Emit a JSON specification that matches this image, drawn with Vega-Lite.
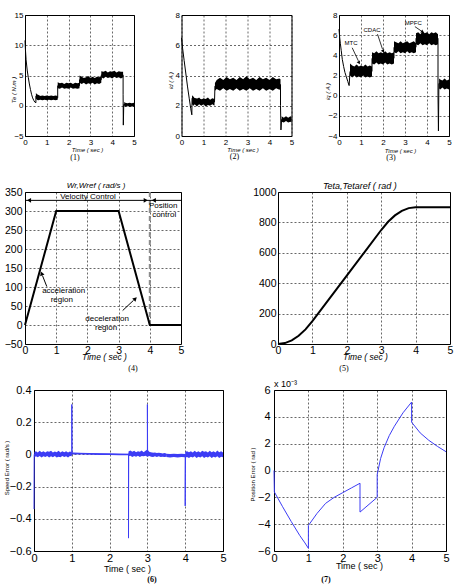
{
  "$schema": "https://vega.github.io/schema/vega-lite/v6.json",
  "padding": {"left": 2, "top": 10, "right": 0, "bottom": 0},
  "datasets": {
    "none": [],
    "p1band": [
      {"seg":"a","t":0.5,"lo":1.2,"hi":2.1},{"seg":"a","t":0.55,"lo":1.0,"hi":1.9},{"seg":"a","t":0.6,"lo":0.9,"hi":1.8},{"seg":"a","t":0.7,"lo":1.0,"hi":1.6},{"seg":"a","t":0.8,"lo":0.9,"hi":1.7},{"seg":"a","t":0.9,"lo":1.0,"hi":1.6},{"seg":"a","t":1.0,"lo":0.9,"hi":1.7},{"seg":"a","t":1.1,"lo":1.0,"hi":1.6},{"seg":"a","t":1.2,"lo":0.9,"hi":1.7},{"seg":"a","t":1.3,"lo":1.0,"hi":1.6},{"seg":"a","t":1.4,"lo":0.9,"hi":1.7},{"seg":"a","t":1.5,"lo":1.0,"hi":1.6},
      {"seg":"b","t":1.5,"lo":2.9,"hi":3.9},{"seg":"b","t":1.6,"lo":2.8,"hi":3.7},{"seg":"b","t":1.7,"lo":3.0,"hi":3.8},{"seg":"b","t":1.8,"lo":2.8,"hi":3.6},{"seg":"b","t":1.9,"lo":2.9,"hi":3.8},{"seg":"b","t":2.0,"lo":2.8,"hi":3.7},{"seg":"b","t":2.1,"lo":3.0,"hi":3.8},{"seg":"b","t":2.2,"lo":2.8,"hi":3.6},{"seg":"b","t":2.3,"lo":2.9,"hi":3.8},{"seg":"b","t":2.4,"lo":2.8,"hi":3.7},{"seg":"b","t":2.5,"lo":2.9,"hi":3.8},
      {"seg":"c","t":2.5,"lo":3.8,"hi":5.0},{"seg":"c","t":2.6,"lo":3.6,"hi":4.8},{"seg":"c","t":2.7,"lo":3.8,"hi":4.6},{"seg":"c","t":2.8,"lo":3.5,"hi":4.7},{"seg":"c","t":2.9,"lo":3.7,"hi":4.9},{"seg":"c","t":3.0,"lo":3.6,"hi":4.6},{"seg":"c","t":3.1,"lo":3.8,"hi":4.8},{"seg":"c","t":3.2,"lo":3.5,"hi":4.6},{"seg":"c","t":3.3,"lo":3.7,"hi":4.8},{"seg":"c","t":3.4,"lo":3.6,"hi":4.7},{"seg":"c","t":3.5,"lo":3.8,"hi":4.9},
      {"seg":"d","t":3.5,"lo":4.7,"hi":5.7},{"seg":"d","t":3.6,"lo":4.5,"hi":5.6},{"seg":"d","t":3.7,"lo":4.8,"hi":5.8},{"seg":"d","t":3.8,"lo":4.6,"hi":5.5},{"seg":"d","t":3.9,"lo":4.7,"hi":5.7},{"seg":"d","t":4.0,"lo":4.5,"hi":5.6},{"seg":"d","t":4.1,"lo":4.8,"hi":5.8},{"seg":"d","t":4.2,"lo":4.6,"hi":5.5},{"seg":"d","t":4.3,"lo":4.7,"hi":5.7},{"seg":"d","t":4.4,"lo":4.5,"hi":5.6},{"seg":"d","t":4.5,"lo":4.7,"hi":5.6},
      {"seg":"e","t":4.55,"lo":-0.1,"hi":0.6},{"seg":"e","t":4.6,"lo":-0.2,"hi":0.5},{"seg":"e","t":4.7,"lo":0.0,"hi":0.4},{"seg":"e","t":4.8,"lo":-0.2,"hi":0.5},{"seg":"e","t":4.9,"lo":-0.1,"hi":0.4},{"seg":"e","t":5.0,"lo":-0.2,"hi":0.5}
    ],
    "p1line": [
      {"t":0,"v":10.8},{"t":0.02,"v":9.3},{"t":0.05,"v":7.6},{"t":0.1,"v":5.9},{"t":0.15,"v":4.7},{"t":0.2,"v":3.6},{"t":0.25,"v":2.7},{"t":0.3,"v":1.9},{"t":0.35,"v":1.3},{"t":0.4,"v":0.9},{"t":0.45,"v":0.6},{"t":0.5,"v":0.5},{"t":0.5,"v":1.6},{"t":1.5,"v":1.3},{"t":1.5,"v":3.3},{"t":2.5,"v":3.3},{"t":2.5,"v":4.3},{"t":3.5,"v":4.3},{"t":3.5,"v":5.1},{"t":4.5,"v":5.1},{"t":4.5,"v":1.9},{"t":4.51,"v":-3.2},{"t":4.53,"v":0.2},{"t":5,"v":0.2}
    ],
    "p2band": [
      {"seg":"a","t":0.48,"lo":2.1,"hi":2.7},{"seg":"a","t":0.55,"lo":2.0,"hi":2.6},{"seg":"a","t":0.6,"lo":2.1,"hi":2.5},{"seg":"a","t":0.7,"lo":1.95,"hi":2.45},{"seg":"a","t":0.8,"lo":2.1,"hi":2.55},{"seg":"a","t":0.9,"lo":2.0,"hi":2.4},{"seg":"a","t":1.0,"lo":2.1,"hi":2.5},{"seg":"a","t":1.1,"lo":1.95,"hi":2.45},{"seg":"a","t":1.2,"lo":2.05,"hi":2.55},{"seg":"a","t":1.3,"lo":2.0,"hi":2.4},{"seg":"a","t":1.4,"lo":2.1,"hi":2.5},{"seg":"a","t":1.5,"lo":2.0,"hi":2.45},
      {"seg":"b","t":1.52,"lo":3.0,"hi":3.5},{"seg":"b","t":1.6,"lo":3.1,"hi":3.7},{"seg":"b","t":1.75,"lo":3.0,"hi":3.85},{"seg":"b","t":1.9,"lo":3.15,"hi":3.7},{"seg":"b","t":2.05,"lo":3.0,"hi":3.9},{"seg":"b","t":2.2,"lo":3.1,"hi":3.75},{"seg":"b","t":2.35,"lo":3.0,"hi":3.85},{"seg":"b","t":2.5,"lo":3.15,"hi":3.7},{"seg":"b","t":2.65,"lo":3.0,"hi":3.9},{"seg":"b","t":2.8,"lo":3.1,"hi":3.75},{"seg":"b","t":2.95,"lo":3.0,"hi":3.95},{"seg":"b","t":3.1,"lo":3.15,"hi":3.75},{"seg":"b","t":3.25,"lo":3.0,"hi":3.85},{"seg":"b","t":3.4,"lo":3.1,"hi":3.7},{"seg":"b","t":3.55,"lo":3.0,"hi":3.9},{"seg":"b","t":3.7,"lo":3.15,"hi":3.75},{"seg":"b","t":3.85,"lo":3.0,"hi":3.85},{"seg":"b","t":4.0,"lo":3.1,"hi":3.7},{"seg":"b","t":4.15,"lo":3.0,"hi":3.9},{"seg":"b","t":4.3,"lo":3.15,"hi":3.75},{"seg":"b","t":4.45,"lo":3.05,"hi":3.8},{"seg":"b","t":4.5,"lo":3.1,"hi":3.75},
      {"seg":"c","t":4.55,"lo":0.95,"hi":1.3},{"seg":"c","t":4.65,"lo":0.9,"hi":1.2},{"seg":"c","t":4.75,"lo":1.0,"hi":1.3},{"seg":"c","t":4.85,"lo":0.9,"hi":1.2},{"seg":"c","t":4.95,"lo":0.95,"hi":1.3},{"seg":"c","t":5.0,"lo":0.9,"hi":1.25}
    ],
    "p2line": [
      {"t":0,"v":6.5},{"t":0.05,"v":5.8},{"t":0.12,"v":5.0},{"t":0.2,"v":4.1},{"t":0.27,"v":3.3},{"t":0.35,"v":2.5},{"t":0.42,"v":1.8},{"t":0.47,"v":1.4},{"t":0.48,"v":2.5},{"t":1.5,"v":2.25},{"t":1.52,"v":3.3},{"t":4.5,"v":3.4},{"t":4.5,"v":2.0},{"t":4.52,"v":0.4},{"t":4.55,"v":1.1},{"t":5,"v":1.1}
    ],
    "p3band": [
      {"seg":"a","t":0.5,"lo":2.0,"hi":3.2},{"seg":"a","t":0.6,"lo":1.8,"hi":3.0},{"seg":"a","t":0.7,"lo":2.0,"hi":2.9},{"seg":"a","t":0.8,"lo":1.8,"hi":3.1},{"seg":"a","t":0.9,"lo":1.9,"hi":2.9},{"seg":"a","t":1.0,"lo":1.8,"hi":3.0},{"seg":"a","t":1.1,"lo":2.0,"hi":2.9},{"seg":"a","t":1.2,"lo":1.8,"hi":3.1},{"seg":"a","t":1.3,"lo":1.9,"hi":2.9},{"seg":"a","t":1.4,"lo":1.8,"hi":3.0},{"seg":"a","t":1.5,"lo":1.9,"hi":2.9},
      {"seg":"b","t":1.5,"lo":3.2,"hi":4.3},{"seg":"b","t":1.6,"lo":3.1,"hi":4.2},{"seg":"b","t":1.7,"lo":3.3,"hi":4.4},{"seg":"b","t":1.8,"lo":3.1,"hi":4.2},{"seg":"b","t":1.9,"lo":3.2,"hi":4.3},{"seg":"b","t":2.0,"lo":3.1,"hi":4.2},{"seg":"b","t":2.1,"lo":3.3,"hi":4.4},{"seg":"b","t":2.2,"lo":3.1,"hi":4.2},{"seg":"b","t":2.3,"lo":3.2,"hi":4.3},{"seg":"b","t":2.4,"lo":3.1,"hi":4.2},{"seg":"b","t":2.5,"lo":3.2,"hi":4.3},
      {"seg":"c","t":2.5,"lo":4.3,"hi":5.4},{"seg":"c","t":2.6,"lo":4.2,"hi":5.3},{"seg":"c","t":2.7,"lo":4.4,"hi":5.2},{"seg":"c","t":2.8,"lo":4.2,"hi":5.4},{"seg":"c","t":2.9,"lo":4.3,"hi":5.2},{"seg":"c","t":3.0,"lo":4.2,"hi":5.3},{"seg":"c","t":3.1,"lo":4.4,"hi":5.4},{"seg":"c","t":3.2,"lo":4.2,"hi":5.2},{"seg":"c","t":3.3,"lo":4.3,"hi":5.3},{"seg":"c","t":3.4,"lo":4.2,"hi":5.4},{"seg":"c","t":3.5,"lo":4.3,"hi":5.2},
      {"seg":"d","t":3.5,"lo":5.1,"hi":6.2},{"seg":"d","t":3.6,"lo":5.0,"hi":6.3},{"seg":"d","t":3.7,"lo":5.2,"hi":6.1},{"seg":"d","t":3.8,"lo":5.0,"hi":6.4},{"seg":"d","t":3.9,"lo":5.1,"hi":6.2},{"seg":"d","t":4.0,"lo":5.0,"hi":6.3},{"seg":"d","t":4.1,"lo":5.2,"hi":6.1},{"seg":"d","t":4.2,"lo":5.0,"hi":6.3},{"seg":"d","t":4.3,"lo":5.1,"hi":6.2},{"seg":"d","t":4.4,"lo":5.0,"hi":6.3},{"seg":"d","t":4.5,"lo":5.1,"hi":6.1},
      {"seg":"e","t":4.55,"lo":0.7,"hi":1.7},{"seg":"e","t":4.6,"lo":0.6,"hi":1.6},{"seg":"e","t":4.7,"lo":0.8,"hi":1.5},{"seg":"e","t":4.8,"lo":0.6,"hi":1.7},{"seg":"e","t":4.9,"lo":0.7,"hi":1.5},{"seg":"e","t":5.0,"lo":0.6,"hi":1.6}
    ],
    "p3line": [
      {"t":0,"v":6.6},{"t":0.03,"v":5.8},{"t":0.06,"v":5.2},{"t":0.1,"v":4.5},{"t":0.15,"v":3.6},{"t":0.21,"v":2.9},{"t":0.27,"v":2.3},{"t":0.33,"v":1.9},{"t":0.4,"v":1.4},{"t":0.46,"v":1.0},{"t":0.5,"v":2.4},{"t":1.5,"v":2.4},{"t":1.5,"v":3.7},{"t":2.5,"v":3.7},{"t":2.5,"v":4.8},{"t":3.5,"v":4.8},{"t":3.5,"v":5.7},{"t":4.5,"v":5.7},{"t":4.5,"v":0.0},{"t":4.52,"v":-3.5},{"t":4.54,"v":1.2},{"t":5,"v":1.1}
    ],
    "p4line": [{"t":0,"v":0},{"t":1,"v":300},{"t":3,"v":300},{"t":4,"v":0},{"t":5,"v":0}],
    "p4text": [
      {"t":2.02,"v":337,"label":"Velocity Control"},{"t":4.43,"v":313,"label":"Position"},{"t":4.46,"v":289,"label":"control"},
      {"t":1.24,"v":89,"label":"acceleration"},{"t":1.18,"v":67,"label":"region"},{"t":2.63,"v":16,"label":"deceleration"},{"t":2.6,"v":-8,"label":"region"}
    ],
    "p5line": [
      {"t":0,"v":0},{"t":0.2,"v":6},{"t":0.4,"v":24},{"t":0.6,"v":54},{"t":0.8,"v":96},{"t":1.0,"v":150},{"t":1.5,"v":300},{"t":2.0,"v":450},{"t":2.5,"v":600},{"t":3.0,"v":750},{"t":3.2,"v":804},{"t":3.4,"v":846},{"t":3.6,"v":876},{"t":3.8,"v":894},{"t":4.0,"v":900},{"t":5.0,"v":900}
    ],
    "p6band": [
      {"seg":"a","t":0.01,"lo":-0.02,"hi":0.015},{"seg":"a","t":0.05,"lo":-0.012,"hi":0.02},{"seg":"a","t":0.1,"lo":-0.018,"hi":0.012},{"seg":"a","t":0.15,"lo":-0.01,"hi":0.022},{"seg":"a","t":0.2,"lo":-0.02,"hi":0.014},{"seg":"a","t":0.25,"lo":-0.012,"hi":0.02},{"seg":"a","t":0.3,"lo":-0.016,"hi":0.012},{"seg":"a","t":0.35,"lo":-0.01,"hi":0.02},{"seg":"a","t":0.4,"lo":-0.02,"hi":0.016},{"seg":"a","t":0.45,"lo":-0.012,"hi":0.022},{"seg":"a","t":0.5,"lo":-0.018,"hi":0.012},{"seg":"a","t":0.55,"lo":-0.01,"hi":0.018},{"seg":"a","t":0.6,"lo":-0.02,"hi":0.014},{"seg":"a","t":0.65,"lo":-0.014,"hi":0.022},{"seg":"a","t":0.7,"lo":-0.018,"hi":0.012},{"seg":"a","t":0.75,"lo":-0.01,"hi":0.02},{"seg":"a","t":0.8,"lo":-0.016,"hi":0.014},{"seg":"a","t":0.85,"lo":-0.012,"hi":0.02},{"seg":"a","t":0.9,"lo":-0.02,"hi":0.012},{"seg":"a","t":0.95,"lo":-0.01,"hi":0.018},{"seg":"a","t":1.0,"lo":-0.012,"hi":0.014},
      {"seg":"b","t":1.0,"lo":0.0,"hi":0.01},{"seg":"b","t":1.25,"lo":0.0,"hi":0.009},{"seg":"b","t":1.5,"lo":-0.002,"hi":0.007},{"seg":"b","t":1.75,"lo":-0.003,"hi":0.006},{"seg":"b","t":2.0,"lo":-0.004,"hi":0.005},{"seg":"b","t":2.25,"lo":-0.005,"hi":0.004},{"seg":"b","t":2.5,"lo":-0.005,"hi":0.004},
      {"seg":"c","t":2.5,"lo":-0.012,"hi":0.018},{"seg":"c","t":2.55,"lo":-0.008,"hi":0.024},{"seg":"c","t":2.6,"lo":-0.016,"hi":0.016},{"seg":"c","t":2.65,"lo":-0.01,"hi":0.022},{"seg":"c","t":2.7,"lo":-0.014,"hi":0.014},{"seg":"c","t":2.75,"lo":-0.008,"hi":0.02},{"seg":"c","t":2.8,"lo":-0.016,"hi":0.016},{"seg":"c","t":2.85,"lo":-0.01,"hi":0.024},{"seg":"c","t":2.9,"lo":-0.012,"hi":0.014},{"seg":"c","t":2.95,"lo":-0.008,"hi":0.022},{"seg":"c","t":3.0,"lo":-0.014,"hi":0.03},{"seg":"c","t":3.05,"lo":-0.01,"hi":0.016},{"seg":"c","t":3.1,"lo":-0.014,"hi":0.012},{"seg":"c","t":3.15,"lo":-0.016,"hi":0.01},{"seg":"c","t":3.2,"lo":-0.012,"hi":0.012},{"seg":"c","t":3.25,"lo":-0.016,"hi":0.008},{"seg":"c","t":3.3,"lo":-0.012,"hi":0.01},{"seg":"c","t":3.35,"lo":-0.016,"hi":0.008},{"seg":"c","t":3.4,"lo":-0.014,"hi":0.006},{"seg":"c","t":3.45,"lo":-0.016,"hi":0.008},{"seg":"c","t":3.5,"lo":-0.014,"hi":0.006},
      {"seg":"d","t":3.5,"lo":-0.016,"hi":0.004},{"seg":"d","t":3.6,"lo":-0.02,"hi":0.002},{"seg":"d","t":3.7,"lo":-0.016,"hi":0.004},{"seg":"d","t":3.8,"lo":-0.02,"hi":0.002},{"seg":"d","t":3.9,"lo":-0.016,"hi":0.004},{"seg":"d","t":4.0,"lo":-0.018,"hi":0.003},
      {"seg":"e","t":4.0,"lo":-0.02,"hi":0.016},{"seg":"e","t":4.05,"lo":-0.016,"hi":0.02},{"seg":"e","t":4.1,"lo":-0.022,"hi":0.014},{"seg":"e","t":4.15,"lo":-0.014,"hi":0.02},{"seg":"e","t":4.2,"lo":-0.02,"hi":0.012},{"seg":"e","t":4.25,"lo":-0.012,"hi":0.022},{"seg":"e","t":4.3,"lo":-0.022,"hi":0.014},{"seg":"e","t":4.35,"lo":-0.014,"hi":0.02},{"seg":"e","t":4.4,"lo":-0.02,"hi":0.012},{"seg":"e","t":4.45,"lo":-0.012,"hi":0.022},{"seg":"e","t":4.5,"lo":-0.022,"hi":0.016},{"seg":"e","t":4.55,"lo":-0.014,"hi":0.02},{"seg":"e","t":4.6,"lo":-0.02,"hi":0.012},{"seg":"e","t":4.65,"lo":-0.012,"hi":0.022},{"seg":"e","t":4.7,"lo":-0.022,"hi":0.014},{"seg":"e","t":4.75,"lo":-0.014,"hi":0.02},{"seg":"e","t":4.8,"lo":-0.02,"hi":0.012},{"seg":"e","t":4.85,"lo":-0.012,"hi":0.024},{"seg":"e","t":4.9,"lo":-0.022,"hi":0.014},{"seg":"e","t":4.95,"lo":-0.014,"hi":0.02},{"seg":"e","t":5.0,"lo":-0.018,"hi":0.012}
    ],
    "p6line": [
      {"t":0,"v":-0.34},{"t":0.005,"v":0.0},{"t":1.0,"v":0.005},{"t":1.0,"v":0.31},{"t":1.005,"v":0.008},{"t":2.5,"v":0.0},{"t":2.5,"v":-0.52},{"t":2.505,"v":0.005},{"t":3.0,"v":0.01},{"t":3.0,"v":0.31},{"t":3.005,"v":0.01},{"t":3.5,"v":-0.003},{"t":4.0,"v":-0.005},{"t":4.0,"v":-0.32},{"t":4.005,"v":-0.12},{"t":4.01,"v":0.0},{"t":5,"v":0.0}
    ],
    "p7line": [
      {"t":0,"v":0},{"t":0.01,"v":-1.6},{"t":0.25,"v":-2.7},{"t":0.5,"v":-3.8},{"t":0.75,"v":-4.85},{"t":0.9,"v":-5.4},{"t":1.0,"v":-5.8},{"t":1.0,"v":-4.1},{"t":1.25,"v":-3.2},{"t":1.5,"v":-2.45},{"t":1.75,"v":-2.0},{"t":2.0,"v":-1.65},{"t":2.25,"v":-1.3},{"t":2.5,"v":-0.95},{"t":2.5,"v":-3.1},{"t":3.0,"v":-2.0},{"t":3.0,"v":-0.3},{"t":3.1,"v":0.9},{"t":3.2,"v":1.7},{"t":3.35,"v":2.6},{"t":3.5,"v":3.3},{"t":3.75,"v":4.3},{"t":4.0,"v":5.1},{"t":4.0,"v":3.6},{"t":4.25,"v":2.8},{"t":4.5,"v":2.25},{"t":4.75,"v":1.8},{"t":5.0,"v":1.4}
    ]
  },
  "vconcat": [
    {
      "vconcat": [
        {
          "hconcat": [
            {
              "width": 109, "height": 121,
              "title": {"text": "(1)", "orient": "bottom", "dx": -4.5, "offset": 2},
              "layer": [
                {"data": {"name": "p1band"}, "mark": {"type": "area", "color": "#000"},
                 "encoding": {
                   "x": {"field": "t", "type": "quantitative", "scale": {"domain": [0, 5], "nice": false},
                         "axis": {"values": [0,1,2,3,4,5], "tickCount": 20, "format": "d", "labelFontSize": 8, "title": "Time ( sec )", "titleFontSize": 6, "titleFontStyle": "italic", "titleX": 62, "titleY": 13, "titleBaseline": "middle"}},
                   "y": {"field": "lo", "type": "quantitative", "scale": {"domain": [-5, 15], "nice": false},
                         "axis": {"values": [-5,0,5,10,15], "tickCount": 20, "format": "d", "labelFontSize": 8, "title": "Te ( N.m )", "titleFontSize": 6, "titleFontStyle": "italic", "titleX": -12, "titleY": 74.5, "titleBaseline": "middle"}},
                   "y2": {"field": "hi"},
                   "detail": {"field": "seg"}}},
                {"data": {"name": "p1line"}, "mark": {"type": "line", "color": "#000", "strokeWidth": 1},
                 "encoding": {
                   "x": {"field": "t", "type": "quantitative", "scale": {"domain": [0, 5], "nice": false}},
                   "y": {"field": "v", "type": "quantitative", "scale": {"domain": [-5, 15], "nice": false}},
                   "order": {"value": null}}}
              ]
            },
            {
              "width": 110, "height": 121,
              "title": {"text": "(2)", "orient": "bottom", "dx": -2, "offset": 1},
              "layer": [
                {"data": {"name": "p2band"}, "mark": {"type": "area", "color": "#000"},
                 "encoding": {
                   "x": {"field": "t", "type": "quantitative", "scale": {"domain": [0, 5], "nice": false},
                         "axis": {"values": [0,1,2,3,4,5], "tickCount": 20, "format": "d", "labelFontSize": 8, "title": "Time ( sec )", "titleFontSize": 6, "titleFontStyle": "italic", "titleX": 61, "titleY": 13, "titleBaseline": "middle"}},
                   "y": {"field": "lo", "type": "quantitative", "scale": {"domain": [0, 8], "nice": false},
                         "axis": {"values": [0,2,4,6,8], "tickCount": 20, "format": "d", "labelFontSize": 8, "title": "id ( A )", "titleFontSize": 6, "titleFontStyle": "italic", "titleX": -11, "titleY": 65, "titleBaseline": "middle"}},
                   "y2": {"field": "hi"},
                   "detail": {"field": "seg"}}},
                {"data": {"name": "p2line"}, "mark": {"type": "line", "color": "#000", "strokeWidth": 1},
                 "encoding": {
                   "x": {"field": "t", "type": "quantitative", "scale": {"domain": [0, 5], "nice": false}},
                   "y": {"field": "v", "type": "quantitative", "scale": {"domain": [0, 8], "nice": false}},
                   "order": {"value": null}}}
              ]
            },
            {
              "width": 110, "height": 121,
              "title": {"text": "(3)", "orient": "bottom", "dx": -3, "offset": 1},
              "layer": [
                {"data": {"name": "p3band"}, "mark": {"type": "area", "color": "#000"},
                 "encoding": {
                   "x": {"field": "t", "type": "quantitative", "scale": {"domain": [0, 5], "nice": false},
                         "axis": {"values": [0,1,2,3,4,5], "tickCount": 20, "format": "d", "labelFontSize": 8, "title": "Time ( sec )", "titleFontSize": 6, "titleFontStyle": "italic", "titleX": 61, "titleY": 14, "titleBaseline": "middle"}},
                   "y": {"field": "lo", "type": "quantitative", "scale": {"domain": [-4, 8], "nice": false},
                         "axis": {"values": [-4,-2,0,2,4,6,8], "tickCount": 20, "format": "d", "labelFontSize": 8, "title": "iq ( A )", "titleFontSize": 6, "titleFontStyle": "italic", "titleX": -12, "titleY": 76, "titleBaseline": "middle"}},
                   "y2": {"field": "hi"},
                   "detail": {"field": "seg"}}},
                {"data": {"name": "p3line"}, "mark": {"type": "line", "color": "#000", "strokeWidth": 1},
                 "encoding": {
                   "x": {"field": "t", "type": "quantitative", "scale": {"domain": [0, 5], "nice": false}},
                   "y": {"field": "v", "type": "quantitative", "scale": {"domain": [-4, 8], "nice": false}},
                   "order": {"value": null}}},
                {"data": {"values": [{"t": 0.6, "v": 4.75, "t2": 0.88, "v2": 3.45}, {"t": 1.75, "v": 6.1, "t2": 1.98, "v2": 4.6}, {"t": 3.45, "v": 6.85, "t2": 3.75, "v2": 6.4}]},
                 "mark": {"type": "rule", "color": "#000", "strokeWidth": 0.8},
                 "encoding": {
                   "x": {"field": "t", "type": "quantitative", "scale": {"domain": [0, 5], "nice": false}},
                   "x2": {"field": "t2"},
                   "y": {"field": "v", "type": "quantitative", "scale": {"domain": [-4, 8], "nice": false}},
                   "y2": {"field": "v2"}}},
                {"data": {"values": [{"t": 0.9, "v": 3.3}, {"t": 2.0, "v": 4.45}]},
                 "mark": {"type": "point", "shape": "triangle", "angle": 152, "filled": true, "color": "#000", "opacity": 1, "size": 14},
                 "encoding": {
                   "x": {"field": "t", "type": "quantitative", "scale": {"domain": [0, 5], "nice": false}},
                   "y": {"field": "v", "type": "quantitative", "scale": {"domain": [-4, 8], "nice": false}}}},
                {"data": {"values": [{"t": 3.78, "v": 6.35}]},
                 "mark": {"type": "point", "shape": "triangle", "angle": 123, "filled": true, "color": "#000", "opacity": 1, "size": 14},
                 "encoding": {
                   "x": {"field": "t", "type": "quantitative", "scale": {"domain": [0, 5], "nice": false}},
                   "y": {"field": "v", "type": "quantitative", "scale": {"domain": [-4, 8], "nice": false}}}},
                {"data": {"values": [{"t": 0.55, "v": 5.19, "label": "MTC"}, {"t": 1.5, "v": 6.5, "label": "CDAC"}, {"t": 3.38, "v": 7.17, "label": "MPFC"}]},
                 "mark": {"type": "text", "fontSize": 6, "color": "#000"},
                 "encoding": {
                   "x": {"field": "t", "type": "quantitative", "scale": {"domain": [0, 5], "nice": false}},
                   "y": {"field": "v", "type": "quantitative", "scale": {"domain": [-4, 8], "nice": false}},
                   "text": {"field": "label"}}}
              ]
            }
          ],
          "spacing": 47.5,
          "bounds": "flush"
        },
        {
          "hconcat": [
            {
              "width": 156, "height": 152,
              "title": {"text": "(4)", "orient": "bottom", "dx": 30, "offset": 4.5},
              "layer": [
                {"data": {"values": [{"t": 4, "v": 0, "v2": 350}]},
                 "mark": {"type": "rule", "color": "#8c8c8c", "strokeWidth": 2, "strokeDash": [5, 3]},
                 "encoding": {
                   "x": {"field": "t", "type": "quantitative", "scale": {"domain": [0, 5], "nice": false},
                         "axis": {"values": [0,1,2,3,4,5], "tickCount": 20, "format": "d", "labelFontSize": 10.5, "labelPadding": 1, "title": "Time ( sec )", "titleFontSize": 8.5, "titleFontStyle": "italic", "titleX": 79, "titleY": 12, "titleBaseline": "middle"}},
                   "y": {"field": "v", "type": "quantitative", "scale": {"domain": [-50, 350], "nice": false},
                         "axis": {"values": [-50,0,50,100,150,200,250,300,350], "tickCount": 20, "format": "d", "labelFontSize": 10.5, "labelPadding": 3, "title": null}},
                   "y2": {"field": "v2"}}},
                {"data": {"name": "p4line"}, "mark": {"type": "line", "color": "#000", "strokeWidth": 2},
                 "encoding": {
                   "x": {"field": "t", "type": "quantitative", "scale": {"domain": [0, 5], "nice": false}},
                   "y": {"field": "v", "type": "quantitative", "scale": {"domain": [-50, 350], "nice": false}}}},
                {"data": {"values": [{"t": 0, "t2": 5, "v": 328}, {"t": 0.7, "t2": 0.56, "v": 101, "v2": 130}, {"t": 3.13, "t2": 3.48, "v": 38, "v2": 65}]},
                 "mark": {"type": "rule", "color": "#000", "strokeWidth": 1},
                 "encoding": {
                   "x": {"field": "t", "type": "quantitative", "scale": {"domain": [0, 5], "nice": false}},
                   "x2": {"field": "t2"},
                   "y": {"field": "v", "type": "quantitative", "scale": {"domain": [-50, 350], "nice": false}},
                   "y2": {"field": "v2"}}},
                {"data": {"values": [{"t": 0.13, "v": 328}, {"t": 4.13, "v": 328}]},
                 "mark": {"type": "point", "shape": "triangle-left", "filled": true, "color": "#000", "opacity": 1, "size": 22},
                 "encoding": {
                   "x": {"field": "t", "type": "quantitative", "scale": {"domain": [0, 5], "nice": false}},
                   "y": {"field": "v", "type": "quantitative", "scale": {"domain": [-50, 350], "nice": false}}}},
                {"data": {"values": [{"t": 3.87, "v": 328}]},
                 "mark": {"type": "point", "shape": "triangle-right", "filled": true, "color": "#000", "opacity": 1, "size": 22},
                 "encoding": {
                   "x": {"field": "t", "type": "quantitative", "scale": {"domain": [0, 5], "nice": false}},
                   "y": {"field": "v", "type": "quantitative", "scale": {"domain": [-50, 350], "nice": false}}}},
                {"data": {"values": [{"t": 0.54, "v": 134}]},
                 "mark": {"type": "point", "shape": "triangle", "angle": -22, "filled": true, "color": "#000", "opacity": 1, "size": 22},
                 "encoding": {
                   "x": {"field": "t", "type": "quantitative", "scale": {"domain": [0, 5], "nice": false}},
                   "y": {"field": "v", "type": "quantitative", "scale": {"domain": [-50, 350], "nice": false}}}},
                {"data": {"values": [{"t": 3.52, "v": 68}]},
                 "mark": {"type": "point", "shape": "triangle", "angle": 46, "filled": true, "color": "#000", "opacity": 1, "size": 22},
                 "encoding": {
                   "x": {"field": "t", "type": "quantitative", "scale": {"domain": [0, 5], "nice": false}},
                   "y": {"field": "v", "type": "quantitative", "scale": {"domain": [-50, 350], "nice": false}}}},
                {"data": {"name": "p4text"}, "mark": {"type": "text", "fontSize": 8, "color": "#000"},
                 "encoding": {
                   "x": {"field": "t", "type": "quantitative", "scale": {"domain": [0, 5], "nice": false}},
                   "y": {"field": "v", "type": "quantitative", "scale": {"domain": [-50, 350], "nice": false}},
                   "text": {"field": "label"}}},
                {"data": {"values": [{"t": 2.28, "v": 350, "label": "Wr,Wref ( rad/s )"}]},
                 "mark": {"type": "text", "fontSize": 8, "fontStyle": "italic", "color": "#000", "dy": -6},
                 "encoding": {
                   "x": {"field": "t", "type": "quantitative", "scale": {"domain": [0, 5], "nice": false}},
                   "y": {"field": "v", "type": "quantitative", "scale": {"domain": [-50, 350], "nice": false}},
                   "text": {"field": "label"}}}
              ]
            },
            {
              "width": 172, "height": 152,
              "title": {"text": "(5)", "orient": "bottom", "dx": -20, "offset": 4.5},
              "layer": [
                {"data": {"name": "p5line"}, "mark": {"type": "line", "color": "#000", "strokeWidth": 2},
                 "encoding": {
                   "x": {"field": "t", "type": "quantitative", "scale": {"domain": [0, 5], "nice": false},
                         "axis": {"values": [0,1,2,3,4,5], "tickCount": 20, "format": "d", "labelFontSize": 10.5, "labelPadding": 1, "title": "Time ( sec )", "titleFontSize": 8.5, "titleFontStyle": "italic", "titleX": 87, "titleY": 12, "titleBaseline": "middle"}},
                   "y": {"field": "v", "type": "quantitative", "scale": {"domain": [0, 1000], "nice": false},
                         "axis": {"values": [0,200,400,600,800,1000], "tickCount": 20, "format": "d", "labelFontSize": 10.5, "labelPadding": 2, "title": null}}}},
                {"data": {"values": [{"t": 2.38, "v": 1000, "label": "Teta,Tetaref ( rad )"}]},
                 "mark": {"type": "text", "fontSize": 9, "fontStyle": "italic", "color": "#000", "dy": -6},
                 "encoding": {
                   "x": {"field": "t", "type": "quantitative", "scale": {"domain": [0, 5], "nice": false}},
                   "y": {"field": "v", "type": "quantitative", "scale": {"domain": [0, 1000], "nice": false}},
                   "text": {"field": "label"}}}
              ]
            }
          ],
          "spacing": 97,
          "bounds": "flush"
        }
      ],
      "spacing": 18
    },
    {
      "hconcat": [
        {"width": 5, "height": 1, "data": {"name": "none"}, "mark": "point", "encoding": {}, "view": {"stroke": null}},
        {
          "width": 189, "height": 161,
          "title": {"text": "(6)", "orient": "bottom", "dx": 23.5, "offset": 2.5, "fontWeight": "bold"},
          "layer": [
            {"data": {"name": "p6band"}, "mark": {"type": "area", "color": "#3c3cf5"},
             "encoding": {
               "x": {"field": "t", "type": "quantitative", "scale": {"domain": [0, 5], "nice": false},
                     "axis": {"values": [0,1,2,3,4,5], "tickCount": 20, "format": "d", "labelFontSize": 11, "labelPadding": 1, "title": "Time ( sec )", "titleFontSize": 9, "titleX": 93, "titleY": 17, "titleBaseline": "middle"}},
               "y": {"field": "lo", "type": "quantitative", "scale": {"domain": [-0.6, 0.4], "nice": false},
                     "axis": {"values": [-0.6,-0.4,-0.2,0,0.2,0.4], "tickCount": 20, "format": "~g", "labelFontSize": 11, "labelPadding": 3, "title": "Speed Error ( rad/s )", "titleFontSize": 6, "titleX": -28, "titleY": 77.5, "titleBaseline": "middle"}},
               "y2": {"field": "hi"},
               "detail": {"field": "seg"}}},
            {"data": {"name": "p6line"}, "mark": {"type": "line", "color": "#3c3cf5", "strokeWidth": 1},
             "encoding": {
               "x": {"field": "t", "type": "quantitative", "scale": {"domain": [0, 5], "nice": false}},
               "y": {"field": "v", "type": "quantitative", "scale": {"domain": [-0.6, 0.4], "nice": false}},
               "order": {"value": null}}}
          ]
        },
        {"width": 43, "height": 1, "data": {"name": "none"}, "mark": "point", "encoding": {}, "view": {"stroke": null}},
        {
          "width": 172, "height": 161,
          "title": {"text": "(7)", "orient": "bottom", "dx": -34, "offset": 5.5, "fontWeight": "bold"},
          "layer": [
            {"data": {"name": "p7line"}, "mark": {"type": "line", "color": "#3c3cf5", "strokeWidth": 1},
             "encoding": {
               "x": {"field": "t", "type": "quantitative", "scale": {"domain": [0, 5], "nice": false},
                     "axis": {"values": [0,1,2,3,4,5], "tickCount": 20, "format": "d", "labelFontSize": 11, "labelPadding": 1, "title": "Time ( sec )", "titleFontSize": 9, "titleX": 85, "titleY": 14, "titleBaseline": "middle"}},
               "y": {"field": "v", "type": "quantitative", "scale": {"domain": [-6, 6], "nice": false},
                     "axis": {"values": [-6,-4,-2,0,2,4,6], "tickCount": 20, "format": "d", "labelFontSize": 11, "labelPadding": 4, "title": "Position Error ( rad )", "titleFontSize": 6, "titleX": -21.5, "titleY": 84, "titleBaseline": "middle"}},
               "order": {"value": null}}},
            {"data": {"values": [{"t": 0, "v": 6, "label": "x 10⁻³"}]},
             "mark": {"type": "text", "fontSize": 9, "color": "#000", "align": "left", "baseline": "bottom", "dy": -1},
             "encoding": {
               "x": {"field": "t", "type": "quantitative", "scale": {"domain": [0, 5], "nice": false}},
               "y": {"field": "v", "type": "quantitative", "scale": {"domain": [-6, 6], "nice": false}},
               "text": {"field": "label"}}}
          ]
        }
      ],
      "spacing": 4,
      "bounds": "flush"
    }
  ],
  "spacing": 5,
  "config": {
    "font": "Liberation Sans",
    "view": {"stroke": "#000", "strokeWidth": 1},
    "axis": {
      "grid": true, "gridColor": "#000", "gridDash": [2, 2], "gridWidth": 0.7, "gridOpacity": 0.85,
      "domain": false, "ticks": false, "labelColor": "#000", "titleColor": "#000", "titleFontWeight": "normal",
      "labelFont": "Liberation Sans", "titleFont": "Liberation Sans", "labelFlush": false, "labelOverlap": false, "labelPadding": 2
    },
    "title": {"color": "#000", "font": "Liberation Serif", "fontWeight": "normal", "fontSize": 8, "frame": "group", "anchor": "middle"}
  }
}
